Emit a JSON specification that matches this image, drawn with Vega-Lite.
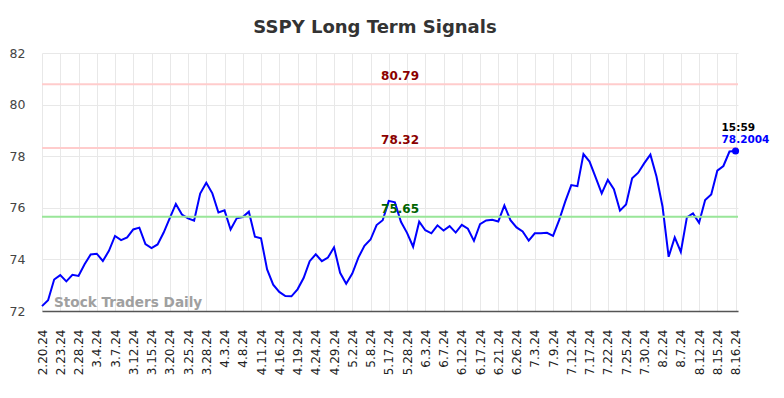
{
  "$schema": "https://vega.github.io/schema/vega-lite/v6.json",
  "autosize": "none",
  "width": 696,
  "height": 258,
  "padding": {"left": 42, "top": 53, "right": 46, "bottom": 87},
  "config": {"font": "DejaVu Sans", "view": {"stroke": null}},
  "title": {"text": "SSPY Long Term Signals", "fontSize": 18, "fontWeight": "bold", "color": "#333333", "offset": 10, "dx": -15},
  "datasets": {
    "price": [
      {"i":0,"v":72.19},{"i":1,"v":72.42},{"i":2,"v":73.22},{"i":3,"v":73.39},{"i":4,"v":73.15},
      {"i":5,"v":73.40},{"i":6,"v":73.36},{"i":7,"v":73.81},{"i":8,"v":74.19},{"i":9,"v":74.22},
      {"i":10,"v":73.94},{"i":11,"v":74.33},{"i":12,"v":74.91},{"i":13,"v":74.75},{"i":14,"v":74.85},
      {"i":15,"v":75.16},{"i":16,"v":75.23},{"i":17,"v":74.59},{"i":18,"v":74.44},{"i":19,"v":74.58},
      {"i":20,"v":75.04},{"i":21,"v":75.60},{"i":22,"v":76.15},{"i":23,"v":75.74},{"i":24,"v":75.59},
      {"i":25,"v":75.50},{"i":26,"v":76.55},{"i":27,"v":76.97},{"i":28,"v":76.56},{"i":29,"v":75.82},
      {"i":30,"v":75.90},{"i":31,"v":75.16},{"i":32,"v":75.59},{"i":33,"v":75.64},{"i":34,"v":75.85},
      {"i":35,"v":74.88},{"i":36,"v":74.82},{"i":37,"v":73.61},{"i":38,"v":73.02},{"i":39,"v":72.74},
      {"i":40,"v":72.58},{"i":41,"v":72.57},{"i":42,"v":72.84},{"i":43,"v":73.28},{"i":44,"v":73.93},
      {"i":45,"v":74.20},{"i":46,"v":73.93},{"i":47,"v":74.07},{"i":48,"v":74.47},{"i":49,"v":73.48},
      {"i":50,"v":73.06},{"i":51,"v":73.45},{"i":52,"v":74.07},{"i":53,"v":74.53},{"i":54,"v":74.77},
      {"i":55,"v":75.33},{"i":56,"v":75.52},{"i":57,"v":76.27},{"i":58,"v":76.21},{"i":59,"v":75.46},
      {"i":60,"v":75.03},{"i":61,"v":74.49},{"i":62,"v":75.46},{"i":63,"v":75.13},{"i":64,"v":75.01},
      {"i":65,"v":75.32},{"i":66,"v":75.12},{"i":67,"v":75.29},{"i":68,"v":75.04},{"i":69,"v":75.34},
      {"i":70,"v":75.19},{"i":71,"v":74.72},{"i":72,"v":75.37},{"i":73,"v":75.51},{"i":74,"v":75.54},
      {"i":75,"v":75.47},{"i":76,"v":76.09},{"i":77,"v":75.52},{"i":78,"v":75.24},{"i":79,"v":75.08},
      {"i":80,"v":74.73},{"i":81,"v":75.01},{"i":82,"v":75.01},{"i":83,"v":75.03},{"i":84,"v":74.91},
      {"i":85,"v":75.52},{"i":86,"v":76.24},{"i":87,"v":76.88},{"i":88,"v":76.84},{"i":89,"v":78.08},
      {"i":90,"v":77.79},{"i":91,"v":77.18},{"i":92,"v":76.56},{"i":93,"v":77.08},{"i":94,"v":76.72},
      {"i":95,"v":75.89},{"i":96,"v":76.13},{"i":97,"v":77.14},{"i":98,"v":77.36},{"i":99,"v":77.73},
      {"i":100,"v":78.06},{"i":101,"v":77.21},{"i":102,"v":76.04},{"i":103,"v":74.10},{"i":104,"v":74.85},
      {"i":105,"v":74.29},{"i":106,"v":75.63},{"i":107,"v":75.78},{"i":108,"v":75.42},{"i":109,"v":76.30},
      {"i":110,"v":76.52},{"i":111,"v":77.44},{"i":112,"v":77.62},{"i":113,"v":78.18},{"i":114,"v":78.2004}
    ],
    "levels": [
      {"level": 80.79, "kind": "resistance"},
      {"level": 78.32, "kind": "resistance"},
      {"level": 75.65, "kind": "support"}
    ],
    "last": [{"i": 114, "v": 78.2004, "time": "15:59"}],
    "mark": [{"label": "Stock Traders Daily"}]
  },
  "layer": [
    {
      "data": {"name": "price"},
      "mark": {"type": "line", "color": "#0000ff", "strokeWidth": 2},
      "encoding": {
        "x": {
          "field": "i", "type": "quantitative",
          "scale": {"domain": [0, 114.4], "nice": false, "zero": false},
          "axis": {
            "title": null,
            "values": [0,3,6,9,12,15,18,21,24,27,30,33,36,39,42,45,48,51,54,57,60,63,66,69,72,75,78,81,84,87,90,93,96,99,102,105,108,111,114],
            "tickCount": 500,
            "labelExpr": "['2.20.24','2.23.24','2.28.24','3.4.24','3.7.24','3.12.24','3.15.24','3.20.24','3.25.24','3.28.24','4.3.24','4.8.24','4.11.24','4.16.24','4.19.24','4.24.24','4.29.24','5.2.24','5.8.24','5.17.24','5.28.24','6.3.24','6.7.24','6.12.24','6.17.24','6.21.24','6.26.24','7.3.24','7.9.24','7.12.24','7.17.24','7.22.24','7.25.24','7.30.24','8.2.24','8.7.24','8.12.24','8.15.24','8.16.24'][round(datum.value / 3)]",
            "labelAngle": -90,
            "labelFontSize": 12,
            "labelColor": "#222222",
            "labelPadding": 18,
            "labelOverlap": false,
            "labelFlush": false,
            "ticks": false,
            "grid": true,
            "gridColor": "#e8e8e8",
            "domain": true,
            "domainColor": "#555555",
            "domainWidth": 1.5
          }
        },
        "y": {
          "field": "v", "type": "quantitative",
          "scale": {"domain": [72, 82], "nice": false, "zero": false},
          "axis": {
            "title": null,
            "values": [72, 74, 76, 78, 80, 82],
            "labelFontSize": 12.5,
            "labelColor": "#444444",
            "labelPadding": 17,
            "ticks": false,
            "domain": false,
            "grid": true,
            "gridColor": "#e8e8e8"
          }
        }
      }
    },
    {
      "data": {"name": "levels"},
      "mark": {"type": "rule", "strokeWidth": 2},
      "encoding": {
        "y": {"field": "level", "type": "quantitative"},
        "stroke": {"field": "kind", "type": "nominal", "scale": {"domain": ["resistance", "support"], "range": ["#ffcccc", "#99e699"]}, "legend": null}
      }
    },
    {
      "data": {"name": "levels"},
      "mark": {"type": "text", "fontWeight": "bold", "fontSize": 12, "align": "center", "baseline": "alphabetic", "dy": -4},
      "encoding": {
        "x": {"datum": 58.85, "type": "quantitative"},
        "y": {"field": "level", "type": "quantitative"},
        "text": {"field": "level", "type": "quantitative", "format": ".2f"},
        "fill": {"field": "kind", "type": "nominal", "scale": {"domain": ["resistance", "support"], "range": ["#8b0000", "#006400"]}, "legend": null}
      }
    },
    {
      "data": {"name": "mark"},
      "mark": {"type": "text", "fontWeight": "bold", "fontSize": 13.6, "color": "#a0a0a0", "align": "left", "baseline": "alphabetic", "dx": 12, "dy": -4},
      "encoding": {
        "x": {"datum": 0, "type": "quantitative"},
        "y": {"datum": 72, "type": "quantitative"},
        "text": {"field": "label"}
      }
    },
    {
      "data": {"name": "last"},
      "mark": {"type": "point", "filled": true, "color": "#0000ff", "size": 50, "opacity": 1},
      "encoding": {
        "x": {"field": "i", "type": "quantitative"},
        "y": {"field": "v", "type": "quantitative"}
      }
    },
    {
      "data": {"name": "last"},
      "mark": {"type": "text", "fontWeight": "bold", "fontSize": 10.5, "color": "#000000", "align": "left", "baseline": "alphabetic", "dx": -14, "dy": -20},
      "encoding": {
        "x": {"field": "i", "type": "quantitative"},
        "y": {"field": "v", "type": "quantitative"},
        "text": {"field": "time"}
      }
    },
    {
      "data": {"name": "last"},
      "mark": {"type": "text", "fontWeight": "bold", "fontSize": 10.5, "color": "#0000ff", "align": "left", "baseline": "alphabetic", "dx": -14, "dy": -8},
      "encoding": {
        "x": {"field": "i", "type": "quantitative"},
        "y": {"field": "v", "type": "quantitative"},
        "text": {"field": "v", "type": "quantitative", "format": ".4f"}
      }
    }
  ]
}
